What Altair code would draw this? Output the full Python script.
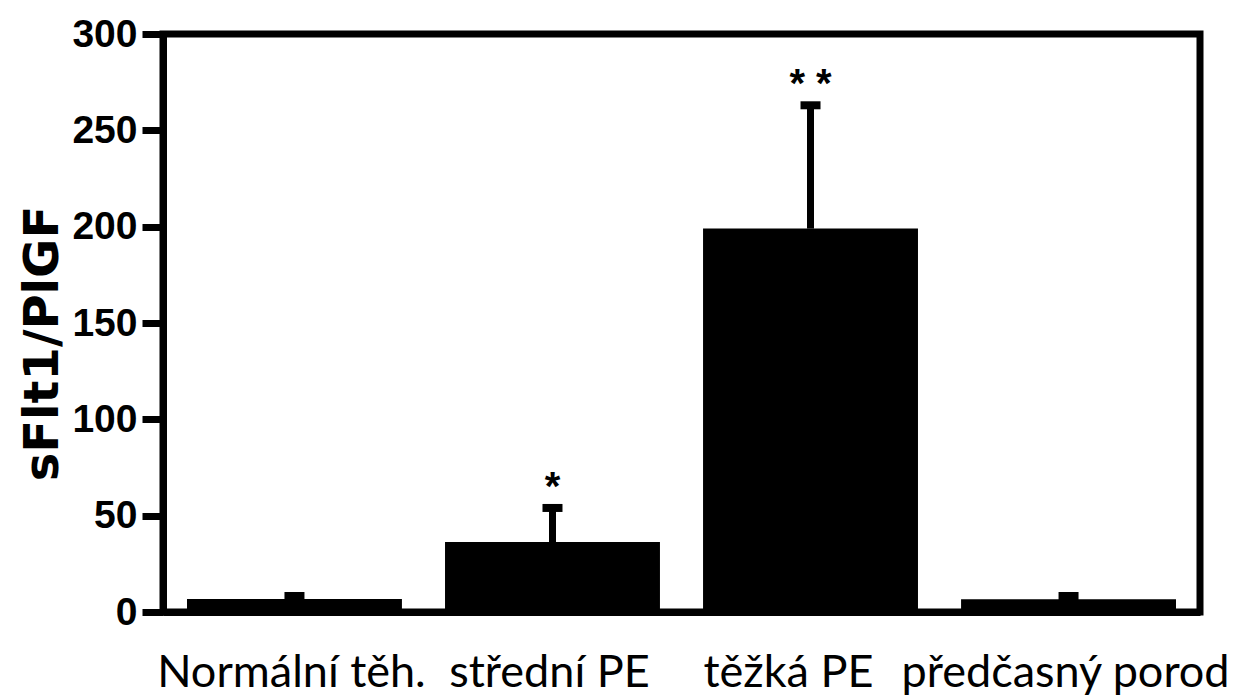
import altair as alt
import pandas as pd

categories = ["Normální těh.", "střední PE", "těžká PE", "předčasný porod"]
means = [6.7, 36.3, 199.0, 6.6]
upper = [8.3, 54.0, 263.0, 8.3]
stars = ["", "*", "* *", ""]
y_ticks = [0, 50, 100, 150, 200, 250, 300]

df = pd.DataFrame({"group": categories, "mean": means, "upper": upper, "star": stars})

x_enc = alt.X(
    "group:N",
    sort=categories,
    scale=alt.Scale(paddingInner=0.167, paddingOuter=0.093),
    axis=alt.Axis(
        title=None, labelAngle=0, labelFont="Lato", labelFontSize=45,
        labelOffset={"condition": {"test": "datum.value == 'těžká PE'", "value": -22}, "value": -3},
        labelColor="black", ticks=False, tickSize=0, domain=True,
        domainColor="black", domainWidth=7, labelPadding=74,
        labelBaseline="alphabetic", labelOverlap=False, labelLimit=0,
    ),
)

y_scale = alt.Scale(domain=[0, 300], nice=False, zero=True)
y_axis = alt.Axis(
    values=y_ticks, grid=False, tickSize=21, tickWidth=7, tickColor="black",
    domainWidth=7, domainColor="black", labelFont="Liberation Sans",
    labelFontWeight="bold", labelFontSize=39, labelColor="black", labelPadding=5,
    title="sFlt1/PlGF", titleFont="DejaVu Sans", titleFontSize=48,
    titleFontWeight="bold", titleColor="black", titleX=-120, titleY=309,
    titleBaseline="middle", titleAngle=270,
)

base = alt.Chart(df)

bars = base.mark_bar(color="black").encode(
    x=x_enc,
    y=alt.Y("mean:Q", scale=y_scale, axis=y_axis, title="sFlt1/PlGF"),
)

rules = base.mark_rule(color="black", strokeWidth=7).encode(
    x=x_enc,
    y=alt.Y("mean:Q", scale=y_scale, axis=y_axis, title="sFlt1/PlGF"),
    y2="upper:Q",
)

caps = base.mark_tick(color="black", thickness=8, size=20, opacity=1).encode(
    x=x_enc,
    y=alt.Y("upper:Q", scale=y_scale, axis=y_axis, title="sFlt1/PlGF"),
)

labels = base.mark_text(
    font="Liberation Sans", fontWeight="bold", fontSize=40, baseline="alphabetic",
    dy=-8, color="black",
).encode(
    x=x_enc,
    y=alt.Y("upper:Q", scale=y_scale, axis=y_axis, title="sFlt1/PlGF"),
    text="star:N",
)

chart = (
    alt.layer(bars, rules, caps, labels)
    .properties(
        width=1037, height=578,
        autosize=alt.AutoSizeParams(type="none"),
        padding={"left": 155, "top": 26, "right": 36, "bottom": 83},
        background="white",
    )
    .configure_view(stroke="black", strokeWidth=7)
)

chart.save("out.html", embed_options={"renderer": "svg", "actions": False})
